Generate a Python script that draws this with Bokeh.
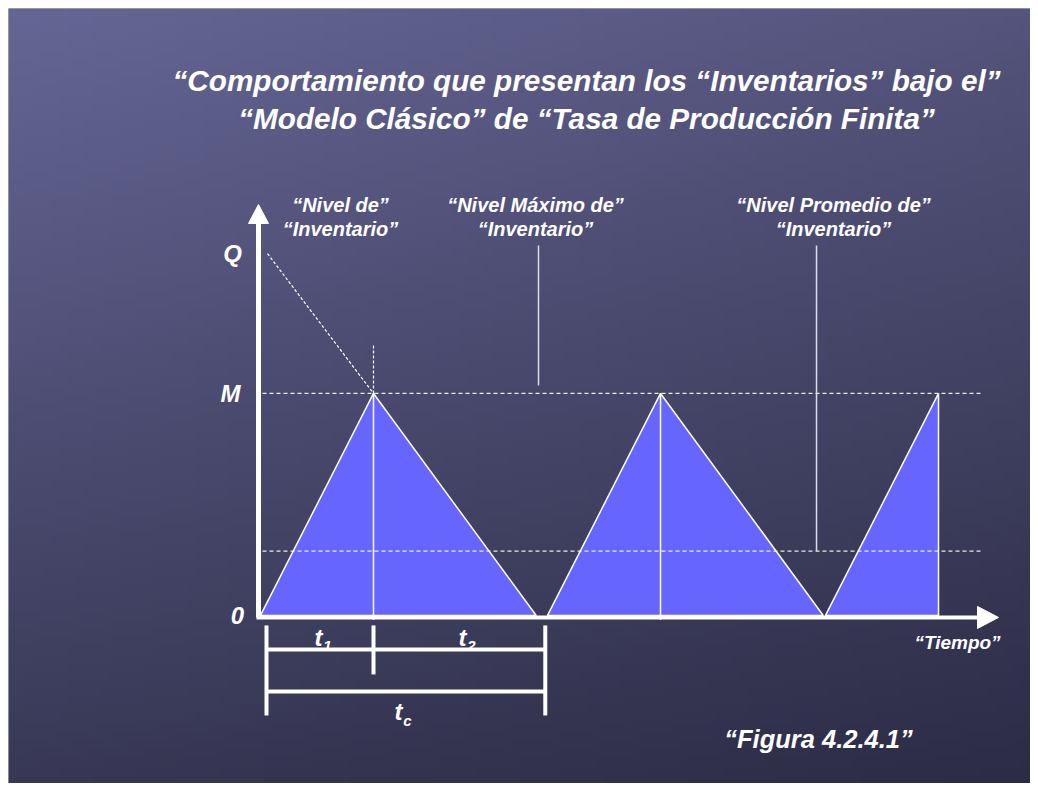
import numpy as np
from bokeh.plotting import figure
from bokeh.models import Range1d
from bokeh.core.properties import value
from bokeh.embed import file_html
from bokeh.resources import INLINE

# ---------------- data ----------------
cycle_start = [0.0, 2.54, 5.0]      # start of each production run
t1 = 1.0                            # production time
t2 = 1.44                           # depletion time
max_level = 1.0                     # M
q_level = 1.63                      # Q
avg_level = 0.29                    # "Nivel Promedio"
tc = 2.52                           # cycle length for the bracket
title_lines = ["\u201cComportamiento que presentan los \u201cInventarios\u201d bajo el\u201d",
               "\u201cModelo Cl\u00e1sico\u201d de \u201cTasa de Producci\u00f3n Finita\u201d"]
top_labels = [["\u201cNivel de\u201d", "\u201cInventario\u201d"],
              ["\u201cNivel M\u00e1ximo de\u201d", "\u201cInventario\u201d"],
              ["\u201cNivel Promedio de\u201d", "\u201cInventario\u201d"]]
axis_labels = ["Q", "M", "0"]

W, H = 1022, 775
X0, X1 = -2.230, 6.814
Y0, Y1 = -0.757, 2.734

def X(px):
    return (px - 260) / 113.0

def Y(py):
    return (615 - py) / 222.0

p = figure(width=W + 8, height=H + 8, output_backend="svg", toolbar_location=None,
           x_range=Range1d(X0, X1), y_range=Range1d(Y0, Y1),
           min_border_left=8, min_border_top=8, min_border_right=0, min_border_bottom=0)
p.axis.visible = False
p.grid.visible = False
p.outline_line_color = None
p.background_fill_color = "#4a4a70"
p.border_fill_color = "white"

# ---------------- background gradient ----------------
nx, ny = 120, 90
u = np.linspace(0, 1, nx)[None, :]
v = np.linspace(0, 1, ny)[:, None]   # 0 = bottom row
tl = np.array([102, 102, 150]); tr = np.array([84, 84, 124])
bl = np.array([56, 56, 86]); br = np.array([44, 44, 70])
top = tl[None, None, :] * (1 - u[..., None]) + tr[None, None, :] * u[..., None]
bot = bl[None, None, :] * (1 - u[..., None]) + br[None, None, :] * u[..., None]
col = bot * (1 - v[..., None]) + top * v[..., None]
img = np.empty((ny, nx), dtype=np.uint32)
view = img.view(dtype=np.uint8).reshape((ny, nx, 4))
view[..., 0] = col[..., 0].astype(np.uint8)
view[..., 1] = col[..., 1].astype(np.uint8)
view[..., 2] = col[..., 2].astype(np.uint8)
view[..., 3] = 255
p.image_rgba(image=[img], x=X0, y=Y0, dw=X1 - X0, dh=Y1 - Y0)

# ---------------- inventory triangles ----------------
xs, ys = [], []
for i, s in enumerate(cycle_start):
    if i < len(cycle_start) - 1:
        xs.append([s, s + t1, s + t1 + t2])
        ys.append([0, max_level, 0])
    else:
        xs.append([s, s + t1, s + t1])
        ys.append([0, max_level, 0])
p.patches(xs, ys, fill_color="#6666ff", line_color="white", line_width=1.5)

# reference dashed levels
x_left, x_right = X(262), X(980)
p.segment(x0=[x_left, x_left], y0=[max_level, avg_level], x1=[x_right, x_right],
          y1=[max_level, avg_level], line_color="white", line_width=1.2,
          line_dash="4 3", line_alpha=0.9)

# vertical lines at peaks
peaks = [s + t1 for s in cycle_start[:2]]
p.segment(x0=peaks, y0=[-0.02, -0.02], x1=peaks, y1=[max_level, max_level],
          line_color="white", line_width=1.5)
p.segment(x0=[peaks[0]], y0=[max_level], x1=[peaks[0]], y1=[1.225],
          line_color="white", line_width=1.2, line_dash="3 2")

# Q dashed diagonal
p.segment(x0=[X(267)], y0=[q_level], x1=[peaks[0]], y1=[max_level],
          line_color="white", line_width=1.2, line_dash="3 2")

# pointer lines for labels
p.segment(x0=[X(538), X(816)], y0=[Y(245), Y(245)], x1=[X(538), X(816)],
          y1=[Y(385), avg_level], line_color="#dddde8", line_width=1.5)

# ---------------- axes with arrows ----------------
p.segment(x0=[X(258)], y0=[Y(617)], x1=[X(258)], y1=[Y(222)],
          line_color="white", line_width=5)
p.segment(x0=[X(256)], y0=[Y(617)], x1=[X(978)], y1=[Y(617)],
          line_color="white", line_width=4)
p.patch([X(248), X(258), X(268)], [Y(223), Y(204), Y(223)],
        fill_color="white", line_color="white")
p.patch([X(977), X(998), X(977)], [Y(606), Y(617), Y(628)],
        fill_color="white", line_color="white")

# ---------------- time brackets ----------------
bx_l, bx_m, bx_r = X(266), cycle_start[0] + t1, X(266) + tc - 0.053
p.segment(x0=[bx_l, bx_m, bx_r, bx_l, bx_l],
          y0=[Y(625), Y(625), Y(625), Y(649), Y(691)],
          x1=[bx_l, bx_m, bx_r, bx_r, bx_r],
          y1=[Y(715), Y(674), Y(715), Y(649), Y(691)],
          line_color="white", line_width=4)

# ---------------- texts ----------------
FONT = value("Liberation Sans")
def txt(x, y, t, size, align="center"):
    p.text(x=x, y=y, text=t, text_font=FONT, text_font_style="bold italic",
           text_font_size=size, text_color="white", text_align=align,
           text_baseline="middle")

txt([X(586), X(586)], [Y(80), Y(118)], title_lines, "29.7px")
lab_x = [X(340), X(535), X(833)]
txt(lab_x, [Y(205)] * 3, [l[0] for l in top_labels], "20px")
txt(lab_x, [Y(229)] * 3, [l[1] for l in top_labels], "20px")
txt([X(232), X(230), X(237)], [q_level, max_level, 0.0], axis_labels, "24px")
txt([X(957)], [Y(642)], ["\u201cTiempo\u201d"], "19px")
txt([X(818)], [Y(739)], ["\u201cFigura 4.2.4.1\u201d"], "25.5px")
txt([X(318), X(462), X(398)], [Y(637), Y(637), Y(711)], ["t", "t", "t"], "24px")
txt([X(327), X(471), X(407)], [Y(646), Y(646), Y(720)], ["1", "2", "c"], "15px")

open("out.html", "w").write(file_html(p, INLINE))
